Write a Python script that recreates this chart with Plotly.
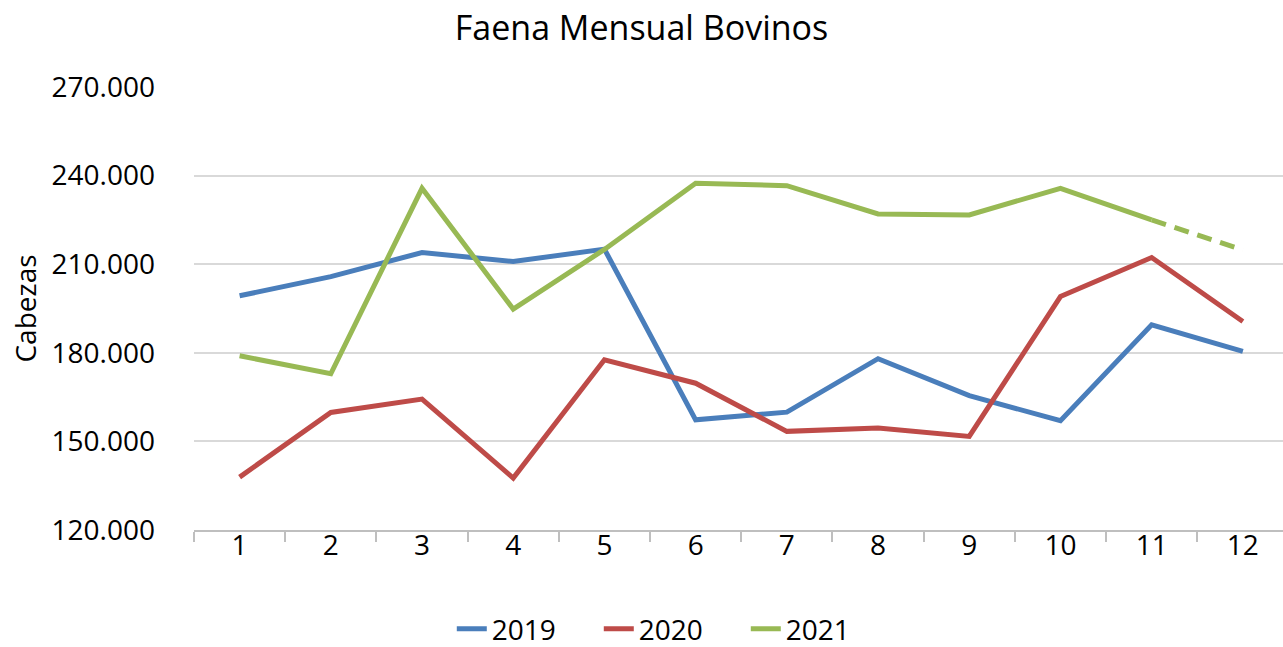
import plotly.graph_objects as go

meses = list(range(1, 13))
faena_2019 = [199300, 205800, 213950, 210900, 215100, 157300, 159900, 178000, 165500, 157000, 189500, 180450]
faena_2020 = [137900, 159800, 164350, 137600, 177650, 169700, 153400, 154500, 151700, 199050, 212250, 190600]
faena_2021 = [179000, 172900, 235700, 194800, 215000, 237400, 236600, 227000, 226700, 235700, 225000, 214850]
y_ticks = [120000, 150000, 180000, 210000, 240000, 270000]
y_labels = ["120.000", "150.000", "180.000", "210.000", "240.000", "270.000"]

FONT = "Open Sans"
fig = go.Figure()
fig.add_trace(go.Scatter(x=meses, y=faena_2019, name="2019", mode="lines",
                         line=dict(color="#4A7EBB", width=5)))
fig.add_trace(go.Scatter(x=meses, y=faena_2020, name="2020", mode="lines",
                         line=dict(color="#BE4B48", width=5)))
fig.add_trace(go.Scatter(x=meses[:11], y=faena_2021[:11], name="2021", mode="lines",
                         line=dict(color="#98B954", width=5)))
# último mes proyectado (punteado)
fig.add_trace(go.Scatter(x=meses[10:], y=faena_2021[10:], mode="lines", showlegend=False,
                         line=dict(color="#98B954", width=5, dash="15px,9px")))

fig.update_layout(
    width=1283, height=647,
    margin=dict(l=194, r=0, t=87, b=117),
    paper_bgcolor="white", plot_bgcolor="white",
    font=dict(family=FONT, size=28, color="black"),
    title=dict(text="Faena Mensual Bovinos", x=0.5, xanchor="center",
               y=1 - 28 / 647, yanchor="middle", font=dict(size=34)),
    xaxis=dict(range=[0.5, 12.44], tickmode="array", tickvals=meses, automargin=False,
               ticktext=[str(m) for m in meses], showgrid=False, zeroline=False,
               showline=True, linecolor="#BFBFBF", linewidth=1.5, ticks="",
               ticklabelstandoff=-10,
               minor=dict(tick0=0.5, dtick=1, ticks="outside", ticklen=10,
                          tickcolor="#BFBFBF", tickwidth=1.5, showgrid=False)),
    yaxis=dict(range=[120000, 270000], tickmode="array", tickvals=y_ticks, automargin=False,
               ticktext=y_labels, showgrid=True, gridcolor="#D9D9D9", gridwidth=1.5,
               zeroline=False, showline=False, ticklabelstandoff=38,
               title=dict(text="Cabezas", standoff=6, font=dict(size=28))),
    legend=dict(orientation="h", xref="container", yref="container",
                x=0.524, xanchor="center", y=(647 - 629) / 647, yanchor="middle",
                font=dict(size=28), entrywidth=102),
)

# quitar el margen por defecto del <body> para que el gráfico quede en (0, 0)
fig.write_html("out.html", config={"displayModeBar": False},
               post_script="document.body.style.margin = '0';")
